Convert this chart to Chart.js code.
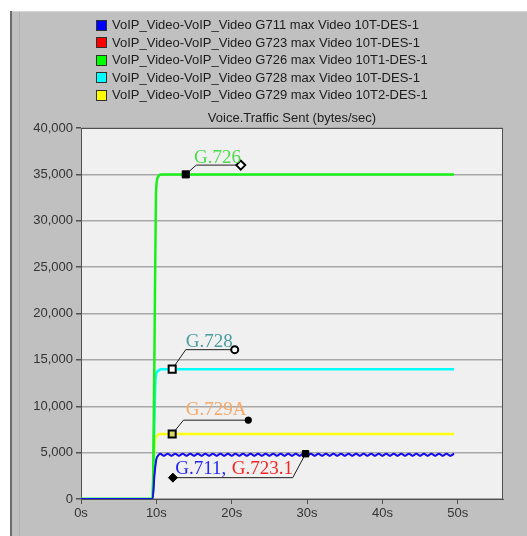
<!DOCTYPE html>
<html>
<head>
<meta charset="utf-8">
<script src="https://cdn.jsdelivr.net/npm/chart.js@4/dist/chart.umd.min.js"></script>
<style>
  html, body { margin: 0; padding: 0; background: #ffffff; }
  canvas { display: block; }
</style>
</head>
<body>
<canvas id="chart" width="527" height="536"></canvas>
<script>
// Voice.Traffic Sent (bytes/sec) for each VoIP codec scenario
const seriesNames = [
  'VoIP_Video-VoIP_Video G711 max Video 10T-DES-1',
  'VoIP_Video-VoIP_Video G723 max Video 10T-DES-1',
  'VoIP_Video-VoIP_Video G726 max Video 10T1-DES-1',
  'VoIP_Video-VoIP_Video G728 max Video 10T-DES-1',
  'VoIP_Video-VoIP_Video G729 max Video 10T2-DES-1'
];

// G.711: ramps up at ~9.5 s then oscillates slightly below 5,000
const timeG711 = [
  0, 9.5, 9.75, 10, 10.25,
  10.5, 11, 11.5, 12, 12.5, 13, 13.5, 14, 14.5, 15,
  15.5, 16, 16.5, 17, 17.5, 18, 18.5, 19, 19.5, 20,
  20.5, 21, 21.5, 22, 22.5, 23, 23.5, 24, 24.5, 25,
  25.5, 26, 26.5, 27, 27.5, 28, 28.5, 29, 29.5, 30,
  30.5, 31, 31.5, 32, 32.5, 33, 33.5, 34, 34.5, 35,
  35.5, 36, 36.5, 37, 37.5, 38, 38.5, 39, 39.5, 40,
  40.5, 41, 41.5, 42, 42.5, 43, 43.5, 44, 44.5, 45,
  45.5, 46, 46.5, 47, 47.5, 48, 48.5, 49, 49.5
];
const sentG711 = [
  0, 0, 2600, 4300, 4700,
  4880, 4660, 4880, 4660, 4880, 4660, 4880, 4660, 4880, 4660,
  4880, 4660, 4880, 4660, 4880, 4660, 4880, 4660, 4880, 4660,
  4880, 4660, 4880, 4660, 4880, 4660, 4880, 4660, 4880, 4660,
  4880, 4660, 4880, 4660, 4880, 4660, 4880, 4660, 4880, 4660,
  4880, 4660, 4880, 4660, 4880, 4660, 4880, 4660, 4880, 4660,
  4880, 4660, 4880, 4660, 4880, 4660, 4880, 4660, 4880, 4660,
  4880, 4660, 4880, 4660, 4880, 4660, 4880, 4660, 4880, 4660,
  4880, 4660, 4880, 4660, 4880, 4660, 4880, 4660, 4880
];

// G.723.1 runs underneath G.711 (same level at this scale)
const timeG723 = timeG711;
const sentG723 = sentG711;

const timeG726 = [0, 9.5, 9.75, 9.95, 10.2, 10.6, 49.5];
const sentG726 = [0, 0, 16000, 33000, 34700, 35000, 35000];

const timeG728 = [0, 9.5, 9.7, 9.9, 10.2, 10.6, 49.5];
const sentG728 = [0, 0, 7000, 13000, 13800, 14000, 14000];

const timeG729 = [0, 9.5, 9.65, 9.85, 10.15, 10.5, 49.5];
const sentG729 = [0, 0, 3500, 6300, 6900, 7000, 7000];

const seriesColors = ['#1010f0', '#ff0000', '#18f018', '#00ffff', '#ffff10'];
const legendBoxColors = ['#0000ff', '#ff0000', '#00ff00', '#00ffff', '#ffff00'];
const seriesWidths = [2, 1.2, 2.5, 2.5, 2.5];

// Axis ticks
const xTickStep = 10;  // seconds
const yTickStep = 5000; // bytes/sec

// Callout leaders: [time, bytes/sec] anchor -> elbow -> tag end
const calloutG726 = [[13.9, 35000], [15.3, 36000], [21.2, 36000]];
const calloutG728 = [[12.1, 14000], [13.9, 16100], [20.4, 16100]];
const calloutG729 = [[12.1, 7000], [13.6, 8500], [22.2, 8500]];
const calloutG711 = [[12.2, 2300], [28.1, 2300], [29.8, 4880]];

// Callout texts: text, time, bytes/sec of baseline
const calloutTexts = [
  { text: 'G.726',   x: 15.0, y: 36250, color: '#4cdc4c' },
  { text: 'G.728',   x: 13.9, y: 16350, color: '#4a9c9e' },
  { text: 'G.729A',  x: 13.9, y: 9100,  color: '#f6a868' },
  { text: 'G.711,',  x: 12.5, y: 2700,  color: '#2626f2' },
  { text: 'G.723.1', x: 20.0, y: 2700,  color: '#f42424' }
];

const toPoints = (xs, ys) => xs.map((x, i) => ({ x: x, y: ys[i] }));
const pairPoints = arr => arr.map(p => ({ x: p[0], y: p[1] }));

const traffic = [
  [timeG711, sentG711],
  [timeG723, sentG723],
  [timeG726, sentG726],
  [timeG728, sentG728],
  [timeG729, sentG729]
].map((s, i) => ({
  label: seriesNames[i],
  data: toPoints(s[0], s[1]),
  borderColor: seriesColors[i],
  backgroundColor: seriesColors[i],
  borderWidth: seriesWidths[i],
  pointRadius: 0,
  cubicInterpolationMode: 'monotone',
  fill: false,
  order: i
}));

function leader(points, styles, radii, fills, widths) {
  return {
    label: '',
    isCallout: true,
    data: pairPoints(points),
    borderColor: '#1e1e1e',
    borderWidth: 1,
    tension: 0,
    pointStyle: styles,
    pointRadius: radii,
    pointBackgroundColor: fills,
    pointBorderColor: '#000000',
    pointBorderWidth: widths,
    order: -1
  };
}

const callouts = [
  leader(calloutG726, ['rect', false, 'rectRot'], [5, 0, 4.5], ['#000', '#000', '#fff'], [1, 0, 2]),
  leader(calloutG728, ['rect', false, 'circle'], [5, 0, 3.5], ['#fff', '#000', '#fff'], [2, 0, 2]),
  leader(calloutG729, ['rect', false, 'circle'], [5, 0, 3.2], ['#d8d860', '#000', '#000'], [2, 0, 1]),
  leader(calloutG711, ['rectRot', false, 'rect'], [4.5, 0, 4.5], ['#000', '#000', '#000'], [1, 0, 1])
];

const FONT_SANS = '"Liberation Sans", Arial, sans-serif';
const FONT_SERIF = '"Liberation Serif", "Times New Roman", serif';

// Window frame, gray panel and plot background
const framePlugin = {
  id: 'frame',
  beforeDraw(chart) {
    const { ctx, chartArea: a } = chart;
    const w = chart.width, h = chart.height;
    ctx.save();
    ctx.fillStyle = '#ffffff';
    ctx.fillRect(0, 0, w, h);
    ctx.fillStyle = '#c0c0c0';
    ctx.fillRect(10, 11, w - 10, h - 11);
    ctx.fillStyle = '#6c6c6c';
    ctx.fillRect(10, 11, 2, h - 11);
    ctx.fillStyle = '#d4d4d4';
    ctx.fillRect(12, 11, w - 12, 1);
    ctx.fillStyle = '#b0b0b0';
    ctx.fillRect(19, 12, 1, h - 12);
    ctx.fillStyle = '#f0f0f0';
    ctx.fillRect(a.left, a.top, a.right - a.left, a.bottom - a.top);
    ctx.restore();
  },
  beforeDatasetsDraw(chart) {
    const { ctx, chartArea: a } = chart;
    ctx.save();
    ctx.strokeStyle = '#505050';
    ctx.lineWidth = 1;
    ctx.strokeRect(a.left + 0.5, a.top + 0.5, a.right - a.left - 1, a.bottom - a.top);
    ctx.restore();
  }
};

// Legend block and plot title
const headerPlugin = {
  id: 'header',
  afterDraw(chart) {
    const { ctx, chartArea: a } = chart;
    ctx.save();
    ctx.font = '13px ' + FONT_SANS;
    ctx.textBaseline = 'middle';
    ctx.textAlign = 'left';
    seriesNames.forEach((name, i) => {
      const y = 25.5 + i * 17.5;
      ctx.fillStyle = legendBoxColors[i];
      ctx.fillRect(97, Math.round(y) - 5, 9, 9);
      ctx.strokeStyle = '#303030';
      ctx.lineWidth = 1;
      ctx.strokeRect(96.5, Math.round(y) - 5.5, 10, 10);
      ctx.fillStyle = '#1c1c1c';
      ctx.fillText(name, 112, y);
    });
    ctx.textAlign = 'center';
    ctx.fillStyle = '#202020';
    ctx.fillText('Voice.Traffic Sent (bytes/sec)', (a.left + a.right) / 2, 118);
    ctx.restore();
  }
};

// Callout captions placed in data coordinates
const calloutTextPlugin = {
  id: 'calloutText',
  afterDatasetsDraw(chart) {
    const { ctx } = chart;
    const xs = chart.scales.x, ys = chart.scales.y;
    ctx.save();
    ctx.font = '19px ' + FONT_SERIF;
    ctx.textAlign = 'left';
    ctx.textBaseline = 'alphabetic';
    calloutTexts.forEach(t => {
      ctx.fillStyle = t.color;
      ctx.fillText(t.text, xs.getPixelForValue(t.x), ys.getPixelForValue(t.y));
    });
    ctx.restore();
  }
};

new Chart(document.getElementById('chart'), {
  type: 'line',
  data: { datasets: traffic.concat(callouts) },
  options: {
    responsive: false,
    animation: false,
    events: [],
    layout: { padding: { top: 128, right: 24, left: 0, bottom: 0 } },
    plugins: {
      legend: { display: false },
      title: { display: false },
      tooltip: { enabled: false }
    },
    scales: {
      x: {
        type: 'linear',
        min: 0,
        max: 56,
        afterFit(scale) { scale.height = 37; },
        ticks: {
          stepSize: xTickStep,
          includeBounds: false,
          color: '#333333',
          font: { family: FONT_SANS, size: 13 },
          padding: 2,
          maxRotation: 0,
          callback: v => v + 's'
        },
        grid: {
          drawOnChartArea: false,
          drawTicks: true,
          tickLength: 5,
          color: '#505050',
          tickColor: '#505050'
        },
        border: { display: true, color: '#505050', width: 1 }
      },
      y: {
        type: 'linear',
        min: 0,
        max: 40000,
        afterFit(scale) { scale.width = 81; },
        ticks: {
          stepSize: yTickStep,
          color: '#333333',
          font: { family: FONT_SANS, size: 13 },
          padding: 3,
          callback: v => v.toLocaleString('en-US')
        },
        grid: {
          color: '#a8a8a8',
          lineWidth: 1.5,
          tickLength: 5,
          tickColor: '#505050'
        },
        border: { display: true, color: '#505050', width: 1 }
      }
    }
  },
  plugins: [framePlugin, headerPlugin, calloutTextPlugin]
});
</script>
</body>
</html>
